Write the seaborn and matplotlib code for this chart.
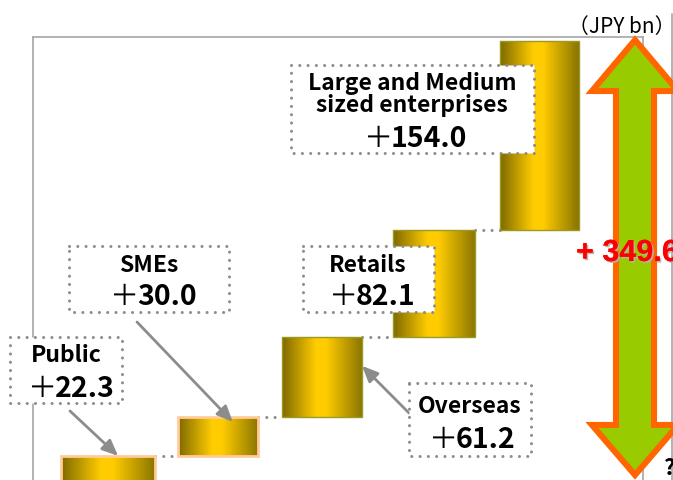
import numpy as np
import pandas as pd
import matplotlib
matplotlib.use("Agg")
import matplotlib.pyplot as plt
import seaborn as sns
from matplotlib.colors import LinearSegmentedColormap
from matplotlib.patches import Rectangle, Polygon
import matplotlib.patheffects as pe

# ---------------- data ----------------
categories = ["Public", "SMEs", "Overseas", "Retails", "Large and Medium\nsized enterprises"]
values = [22.3, 30.0, 61.2, 82.1, 154.0]
# bar heights as drawn in the original (its tallest bar is drawn shorter than its label)
drawn_heights = [22.3, 30.0, 61.2, 82.1, 145.0]
unit_label = "（JPY bn）"

sns.set_theme(style="white")
plt.rcParams["font.family"] = ["Noto Sans CJK JP", "DejaVu Sans"]

W, H = 673, 481
fig = plt.figure(figsize=(W / 100, H / 100), dpi=100)

# ---------------- layout (pixel geometry) ----------------
PX_X0, PX_UX = 108.0, 106.0      # pixel x of slot 0, pixels per slot
PX_Y0, PX_UY = 486.0, 1.303      # pixel y of value 0, pixels per JPY bn
slot = [0.0, 1.038, 2.019, 3.075, 4.071]
bar_w = [0.887, 0.755, 0.755, 0.774, 0.745]
edge_cols = ["#FFCC99", "#FFCC99", "#9A9A22", "#9A9A22", "#9A9A22"]
edge_lws = [2.0, 2.0, 1.0, 1.0, 1.0]

ax = fig.add_axes([33 / W, 0, (643 - 33) / W, (H - 38) / H])
ov = fig.add_axes([0, 0, 1, 1], zorder=5)
ov.set_xlim(0, W)
ov.set_ylim(H, 0)
ov.axis("off")

# ---------------- bars (waterfall) ----------------
df = pd.DataFrame({"slot": slot, "height": drawn_heights})
sns.barplot(data=df, x="slot", y="height", native_scale=True, errorbar=None,
            ax=ax, color="#FFCC00")
bottoms = np.concatenate([[0.0], np.cumsum(drawn_heights)[:-1]])
tops = bottoms + np.array(drawn_heights)

cmap = LinearSegmentedColormap.from_list(
    "gold", [(0.0, "#7E6900"), (0.42, "#FFCC00"), (0.55, "#FFCC00"), (1.0, "#887400")])
grad = np.linspace(0, 1, 256).reshape(1, -1)

for p, c, w, b, h, ec, elw in zip(ax.patches, slot, bar_w, bottoms, drawn_heights,
                                   edge_cols, edge_lws):
    p.set_x(c - w / 2)
    p.set_width(w)
    p.set_y(b)
    p.set_height(h)
    p.set_facecolor("none")
    p.set_edgecolor(ec)
    p.set_linewidth(elw)
    p.set_zorder(3)
    im = ax.imshow(grad, cmap=cmap, extent=(c - w / 2, c + w / 2, b, b + h),
                   aspect="auto", origin="lower", interpolation="bilinear", zorder=2)
    im.set_clip_path(p)

# dotted connectors
for i in range(len(slot) - 1):
    ax.plot([slot[i] + bar_w[i] / 2, slot[i + 1] - bar_w[i + 1] / 2], [tops[i], tops[i]],
            color="#8C8C8C", lw=2.2, ls=(0, (0.01, 2.7)), dash_capstyle="round", zorder=1)

ax.set_xlim((33 - PX_X0) / PX_UX, (643 - PX_X0) / PX_UX)
ax.set_ylim((PX_Y0 - 481) / PX_UY, (PX_Y0 - 38) / PX_UY)
ax.set_xticks([])
ax.set_yticks([])
ax.set_xlabel("")
ax.set_ylabel("")
for s in ["top", "left", "right"]:
    ax.spines[s].set_color("#A6A6A6")
    ax.spines[s].set_linewidth(1.2)
ax.spines["bottom"].set_visible(False)

# second panel edge at the right
ov.plot([672, 672], [15, 481], color="#A6A6A6", lw=1.2, zorder=1)

# ---------------- annotation boxes ----------------
def box(x0, y0, x1, y1):
    r = Rectangle((x0, y0), x1 - x0, y1 - y0, facecolor="white", edgecolor="#8C8C8C",
                  lw=2.2, ls=(0, (0.01, 2.7)), zorder=2)
    r.set_capstyle("round")
    ov.add_patch(r)

name_kw = dict(fontsize=16.5, fontweight="bold", color="black", ha="center",
               va="baseline", zorder=4)

def value_label(x_digits, y, v):
    # thin full-width plus followed by bold digits
    ov.text(x_digits + 2, y, "＋", fontsize=21, fontweight="normal", color="black",
            ha="right", va="baseline", zorder=4)
    ov.text(x_digits, y, f"{v:.1f}", fontsize=20.5, fontweight="bold", color="black",
            ha="left", va="baseline", zorder=4)

# Public
box(10, 338, 122, 404)
ov.text(66, 362, categories[0], **name_kw)
value_label(55, 397, values[0])
# SMEs
box(69, 247, 229, 313)
ov.text(149, 272, categories[1], **name_kw)
value_label(137, 305, values[1])
# Overseas
box(409, 384, 531, 457)
ov.text(470, 413, categories[2], **name_kw)
value_label(456, 448, values[2])
# Retails
box(303, 247, 434, 313)
ov.text(368, 272, categories[3], **name_kw)
value_label(356, 305, values[3])
# Large and Medium
box(291, 66, 534, 154)
l1, l2 = categories[4].split("\n")
ov.text(412, 90, l1, **name_kw)
ov.text(412, 112, l2, **name_kw)
value_label(391, 147, values[4])

# ---------------- pointer arrows ----------------
aprops = dict(arrowstyle="-|>,head_length=0.8,head_width=0.35", color="#8C8C8C",
              lw=2.0, shrinkA=0, shrinkB=0)
ax.annotate("", xy=(slot[0] + 0.095, tops[0]), xytext=(70, 412),
            textcoords=ov.transData, arrowprops=aprops, zorder=6)
ax.annotate("", xy=(slot[1] + 0.14, tops[1] - 4), xytext=(137, 323),
            textcoords=ov.transData, arrowprops=aprops, zorder=6)
ax.annotate("", xy=(slot[2] + bar_w[2] / 2, bottoms[2] + 0.64 * drawn_heights[2]),
            xytext=(409, 414), textcoords=ov.transData, arrowprops=aprops, zorder=6)

# ---------------- total arrow ----------------
arrow_pts = [(635, 41), (678, 92), (654, 92), (654, 426), (678, 426), (635, 476),
             (592, 426), (616, 426), (616, 92), (592, 92)]
ov.add_patch(Polygon(arrow_pts, closed=True, facecolor="#99CC00", edgecolor="#FF6600",
                     lw=4.4, joinstyle="miter", zorder=3))

ov.text(576, 262, f"+ {sum(values):.1f}", fontsize=22, fontweight="bold",
        family=["Liberation Sans", "DejaVu Sans"], color="#FF0000", ha="left",
        va="baseline", zorder=6,
        path_effects=[pe.withSimplePatchShadow(offset=(1.2, -1.2), shadow_rgbFace="#B4B4B4",
                                               alpha=0.9), pe.Normal()])

ov.text(622, 33, unit_label, fontsize=15, color="black", ha="center", va="baseline",
        zorder=6)
ov.text(664, 475, "?", fontsize=16, fontweight="bold", color="black", ha="left",
        va="baseline", zorder=6)

fig.savefig("out.png", dpi=100)
